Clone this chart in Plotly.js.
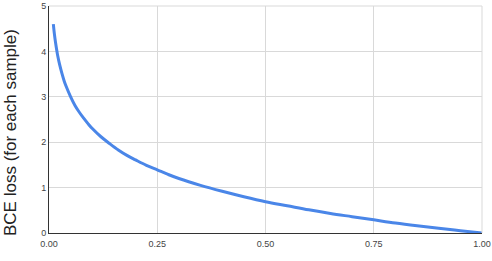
<!DOCTYPE html>
<html><head><meta charset="utf-8">
<script src="https://cdn.plot.ly/plotly-3.0.1.min.js"></script>
<style>html,body{margin:0;padding:0;background:#fff}#c{width:492px;height:261px}</style>
</head><body><div id="c"></div>
<script>
const xValues = [0.01, 0.0125, 0.015, 0.0175, 0.02, 0.025, 0.03, 0.035, 0.04, 0.05, 0.06, 0.07, 0.08, 0.09, 0.10, 0.12, 0.14, 0.16, 0.18, 0.20, 0.225, 0.25, 0.275, 0.30, 0.35, 0.40, 0.45, 0.50, 0.55, 0.60, 0.65, 0.70, 0.75, 0.80, 0.85, 0.90, 0.95, 1.00];
const lossValues = [4.6, 4.38, 4.2, 4.05, 3.91, 3.69, 3.51, 3.35, 3.22, 3.0, 2.81, 2.66, 2.53, 2.41, 2.3, 2.12, 1.97, 1.83, 1.71, 1.61, 1.49, 1.39, 1.29, 1.2, 1.05, 0.92, 0.8, 0.69, 0.6, 0.51, 0.43, 0.36, 0.29, 0.22, 0.16, 0.105, 0.05, 0.0];
const xTicks = [0, 0.25, 0.5, 0.75, 1.0];
const xTickLabels = ["0.00", "0.25", "0.50", "0.75", "1.00"];
const yTicks = [0, 1, 2, 3, 4, 5];
const yTitle = 'BCE loss (for each sample)';

Plotly.newPlot('c', [{
  x: xValues, y: lossValues, type: 'scatter', mode: 'lines',
  line: {color: '#4a86e8', width: 3, shape: 'spline', smoothing: 1},
  hoverinfo: 'skip'
}], {
  width: 492, height: 261,
  margin: {l: 49, r: 10, t: 6, b: 28},
  paper_bgcolor: '#fff', plot_bgcolor: '#fff',
  showlegend: false,
  font: {family: 'Liberation Sans, Arial, sans-serif', color: '#444', size: 9},
  xaxis: {range: [0, 1], tickvals: xTicks, ticktext: xTickLabels, showgrid: true,
    gridcolor: '#d9d9d9', gridwidth: 1, zeroline: false, showline: true, linecolor: '#333',
    linewidth: 1, ticks: 'outside', ticklen: 2, tickcolor: 'rgba(0,0,0,0)', fixedrange: true, mirror: false},
  yaxis: {range: [0, 5], tickvals: yTicks, showgrid: true, gridcolor: '#d9d9d9', gridwidth: 1,
    zeroline: false, showline: true, linecolor: '#333', linewidth: 1, ticks: '', ticklen: 0,
    fixedrange: true},
  annotations: [{text: yTitle, textangle: -90, xref: 'paper', yref: 'paper',
    x: (10 - 49) / 433, y: (233 - 133) / 227, xanchor: 'center', yanchor: 'middle',
    showarrow: false, font: {size: 17, color: '#222'}}],
  shapes: [
    {type: 'line', xref: 'paper', yref: 'paper', x0: 1, x1: 1, y0: 0, y1: 1, line: {color: '#d9d9d9', width: 1}},
    {type: 'line', xref: 'paper', yref: 'paper', x0: 0, x1: 1, y0: 1, y1: 1, line: {color: '#d9d9d9', width: 1}}
  ]
}, {staticPlot: true});
</script></body></html>
